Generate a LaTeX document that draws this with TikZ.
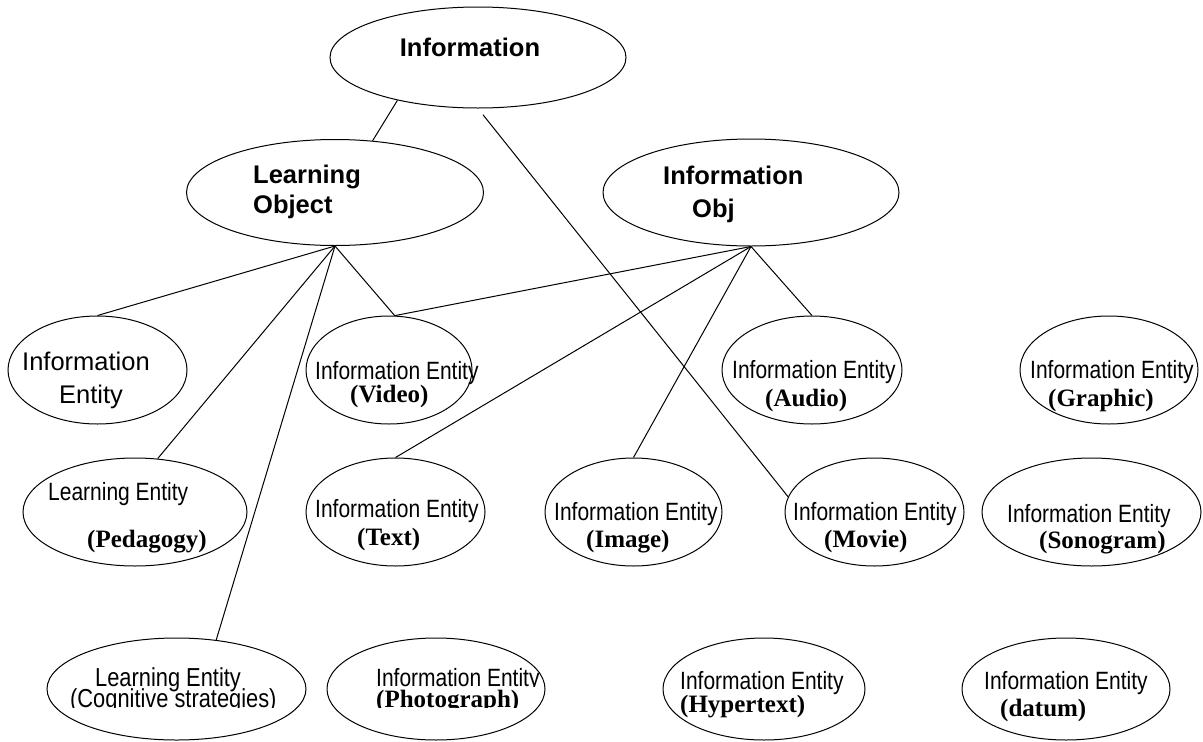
\documentclass[tikz,border=0pt]{standalone}
\usepackage{fontspec}
\setmainfont{Liberation Serif}
\newfontfamily\arialf{Liberation Sans}
\newfontfamily\narrowf[FakeStretch=0.84]{Liberation Sans}
\usetikzlibrary{shapes.geometric}
\begin{document}
\begin{tikzpicture}[x=1pt,y=-1pt,
  ell/.style={draw, ellipse, line width=1pt, inner sep=0pt},
  conn/.style={line width=1pt},
  hb/.style={font=\arialf\bfseries\fontsize{25.5}{30}\selectfont, inner sep=0pt, anchor=base west},
  hr/.style={font=\arialf\fontsize{25.5}{30}\selectfont, inner sep=0pt, anchor=base west},
  nar/.style={font=\narrowf\fontsize{25}{28}\selectfont, inner sep=0pt, anchor=base west},
  narb/.style={font=\narrowf\fontsize{26}{28}\selectfont, inner sep=0pt, anchor=base west},
  sb/.style={font=\bfseries\fontsize{25}{28}\selectfont, inner sep=0pt, anchor=base west}]
\useasboundingbox (0,0) rectangle (1203,742);

% ellipses
\node[ell, minimum width=296pt, minimum height=101pt] (info) at (478,57.5) {};
\node[ell, minimum width=297pt, minimum height=106pt] (lo) at (335,192.5) {};
\node[ell, minimum width=296pt, minimum height=107pt] (io) at (751,192.5) {};
\node[ell, minimum width=179pt, minimum height=108pt] (ie) at (97.5,370) {};
\node[ell, minimum width=166pt, minimum height=108pt] (vid) at (389,370) {};
\node[ell, minimum width=180pt, minimum height=108pt] (aud) at (812,370) {};
\node[ell, minimum width=178pt, minimum height=108pt] (gra) at (1109,370) {};
\node[ell, minimum width=224pt, minimum height=108pt] (ped) at (135,512) {};
\node[ell, minimum width=179pt, minimum height=108pt] (txt) at (395.5,512) {};
\node[ell, minimum width=177pt, minimum height=108pt] (img) at (633.5,512) {};
\node[ell, minimum width=179pt, minimum height=108pt] (mov) at (874.5,512) {};
\node[ell, minimum width=219pt, minimum height=108pt] (son) at (1091.5,512) {};
\node[ell, minimum width=259pt, minimum height=102pt] (cog) at (176.5,689) {};
\node[ell, minimum width=218pt, minimum height=102pt] (pho) at (436,689) {};
\node[ell, minimum width=202pt, minimum height=102pt] (hyp) at (764,689) {};
\node[ell, minimum width=208pt, minimum height=102pt] (dat) at (1066,689) {};

% connectors
\draw[conn] (info.208) -- (lo.54);
\draw[conn, shorten <=8pt] (info.south) -- (mov.170);
\draw[conn] (lo.south) -- (ie.north);
\draw[conn] (lo.south) -- (ped.67);
\draw[conn] (lo.south) -- (cog.51);
\draw[conn] (lo.south) -- (vid.84);
\draw[conn] (io.south) -- (vid.84);
\draw[conn] (io.south) -- (txt.north);
\draw[conn] (io.south) -- (img.north);
\draw[conn] (io.south) -- (aud.north);

% labels
\node[hb, anchor=base] (tinfo) at (470,56) {Information};
\node[hb] (tlo1) at (253,183) {Learning};
\node[hb] (tlo2) at (253,213) {Object};
\node[hb] (tio1) at (663,184) {Information};
\node[hb] (tio2) at (692,217) {Obj};
\node[hr] (tie1) at (22,370) {Information};
\node[hr] (tie2) at (59,403) {Entity};

\node[nar] (tvid1) at (315,379) {Information Entity};
\node[sb]  (tvid2) at (350,402) {(Video)};
\node[nar] (taud1) at (732,378) {Information Entity};
\node[sb]  (taud2) at (765,406) {(Audio)};
\node[nar] (tgra1) at (1030,378) {Information Entity};
\node[sb]  (tgra2) at (1048,406) {(Graphic)};

\node[nar] (tped1) at (48,500) {Learning Entity};
\node[sb]  (tped2) at (87,547) {(Pedagogy)};
\node[nar] (ttxt1) at (315,517) {Information Entity};
\node[sb]  (ttxt2) at (357,545) {(Text)};
\node[nar] (timg1) at (554,520) {Information Entity};
\node[sb]  (timg2) at (586,547) {(Image)};
\node[nar] (tmov1) at (793,520) {Information Entity};
\node[sb]  (tmov2) at (824,547) {(Movie)};
\node[nar] (tson1) at (1007,522) {Information Entity};
\node[sb]  (tson2) at (1039,548) {(Sonogram)};

\node[narb] (tcog1) at (95,686) {Learning Entity};
\begin{scope}
  \clip (50,650) rectangle (310,707);
  \node[narb] (tcog2) at (70,707) {(Cognitive strategies)};
\end{scope}
\begin{scope}
  \clip (340,640) rectangle (560,686);
  \node[nar] (tpho1) at (376,686) {Information Entity};
\end{scope}
\begin{scope}
  \clip (340,687) rectangle (560,707);
  \node[sb] (tpho2) at (376,707) {(Photograph)};
\end{scope}
\node[nar] (thyp1) at (680,689) {Information Entity};
\node[sb]  (thyp2) at (680,712) {(Hypertext)};
\node[nar] (tdat1) at (984,689) {Information Entity};
\node[sb]  (tdat2) at (1000,716) {(datum)};
\end{tikzpicture}
\end{document}
